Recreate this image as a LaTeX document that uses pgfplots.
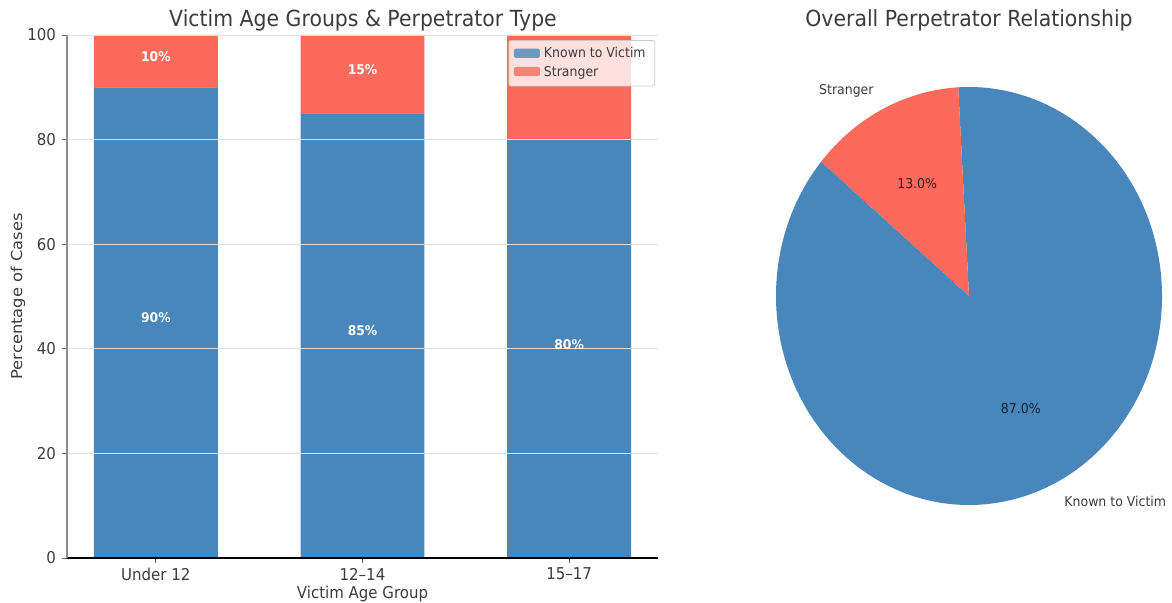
\documentclass[border=0pt]{standalone}
\usepackage{fontspec}
\setmainfont{DejaVu Sans}[FakeStretch=0.92]
\newfontfamily\plainfont{DejaVu Sans}
\usepackage{pgfplots}
\pgfplotsset{compat=1.18}
\definecolor{knownc}{RGB}{72,134,188}
\definecolor{strangerc}{RGB}{252,106,92}
\definecolor{txt}{RGB}{60,60,60}
\begin{document}
\begin{tikzpicture}[x=1pt,y=1pt]
\path[use as bounding box] (0,0) rectangle (586,301.5);
\begin{axis}[
  at={(33.5pt,22.5pt)}, anchor=south west, scale only axis,
  width=295.5pt, height=261.5pt,
  ybar stacked, bar width=0.6,
  xmin=-0.43, xmax=2.43, ymin=0, ymax=100,
  xtick={0,1,2}, xticklabels={Under 12, 12–14, 15–17},
  ytick={0,20,...,100},
  axis x line*=bottom, axis y line*=left,
  x axis line style={black, line width=0.6pt},
  y axis line style={black!45, line width=1pt},
  tick align=outside, major tick length=2.5pt,
  xtick style={black!60, line width=0.4pt},
  ytick style={black!60, line width=0.4pt},
  ymajorgrids, grid style={black!12, line width=0.4pt},
  axis on top,
  /pgf/number format/assume math mode=true,
  ticklabel style={font=\fontsize{8.15}{9}\selectfont, text=txt},
  yticklabel style={xshift=0.5pt},
  xticklabel style={yshift=1pt},
  xlabel={Victim Age Group},
  xlabel style={font=\fontsize{8.15}{9}\selectfont, text=txt, at={(axis description cs:0.5,-0.069)}, anchor=center},
  ylabel={\plainfont\scalebox{1}[0.92]{Percentage of Cases}},
  ylabel style={font=\fontsize{8.15}{9}\selectfont, text=txt, at={(axis description cs:-0.083,0.5)}, anchor=center},
  legend style={at={(0.995,0.99)}, anchor=north east, font=\fontsize{6.8}{8}\selectfont, text=txt,
    fill=white, fill opacity=0.8, text opacity=1, draw=black!20, rounded corners=1pt,
    row sep=-1.5pt, inner xsep=2.5pt, inner ysep=1.5pt},
  legend cell align=left,
  legend image code/.code={\fill[#1] (0pt,-1.8pt) rectangle (13pt,2.8pt);},
]
\addplot[fill=knownc, draw=none] coordinates {(0,90) (1,85) (2,80)};
\addplot[fill=strangerc, draw=none] coordinates {(0,10) (1,15) (2,20)};
\legend{Known to Victim, Stranger}
\coordinate (k0) at (axis cs:0,45);
\coordinate (k1) at (axis cs:1,42.5);
\coordinate (k2) at (axis cs:2,40);
\coordinate (s0) at (axis cs:0,95);
\coordinate (s1) at (axis cs:1,92.5);
\end{axis}
\foreach \c/\t in {k0/90, k1/85, k2/80, s0/10, s1/15}
  \node[text=white, yshift=2.3pt, font=\bfseries\fontsize{6.7}{7}\selectfont] at (\c) {\t\%};
\node[text=txt, font=\fontsize{11.1}{13}\selectfont] at (181.5pt,291.5pt) {Victim Age Groups \& Perpetrator Type};
\def\pKnown{87}
\def\pStranger{13}
\begin{axis}[
  at={(484.5pt,153.5pt)}, anchor=center, scale only axis,
  width=193pt, height=209pt,
  xmin=-1, xmax=1, ymin=-1, ymax=1, hide axis, clip=false,
]
\fill[knownc] (axis cs:0,0) -- ++(140:96.5pt and 104.5pt)
  arc[start angle=140, delta angle={3.6*\pKnown}, x radius=96.5pt, y radius=104.5pt] -- cycle;
\fill[strangerc] (axis cs:0,0) -- ++({140+3.6*\pKnown}:96.5pt and 104.5pt)
  arc[start angle={140+3.6*\pKnown}, delta angle={3.6*\pStranger}, x radius=96.5pt, y radius=104.5pt] -- cycle;
\node[anchor=east, inner sep=0pt, text=txt, font=\fontsize{6.8}{8}\selectfont] at (axis cs:{1.1*cos(116.6)},{1.1*sin(116.6)}) {Stranger};
\node[anchor=west, inner sep=0pt, text=txt, font=\fontsize{6.8}{8}\selectfont] at (axis cs:{1.1*cos(296.6)},{1.1*sin(296.6)}) {Known to Victim};
\node[inner sep=0pt, text=black, text opacity=0.75, font=\fontsize{6.8}{8}\selectfont] at (axis cs:{0.6*cos(116.6)},{0.6*sin(116.6)}) {13.0\%};
\node[inner sep=0pt, text=black, text opacity=0.75, font=\fontsize{6.8}{8}\selectfont] at (axis cs:{0.6*cos(296.6)},{0.6*sin(296.6)}) {87.0\%};
\end{axis}
\node[text=txt, font=\fontsize{11.1}{13}\selectfont] at (484.5pt,291.5pt) {Overall Perpetrator Relationship};
\end{tikzpicture}
\end{document}
